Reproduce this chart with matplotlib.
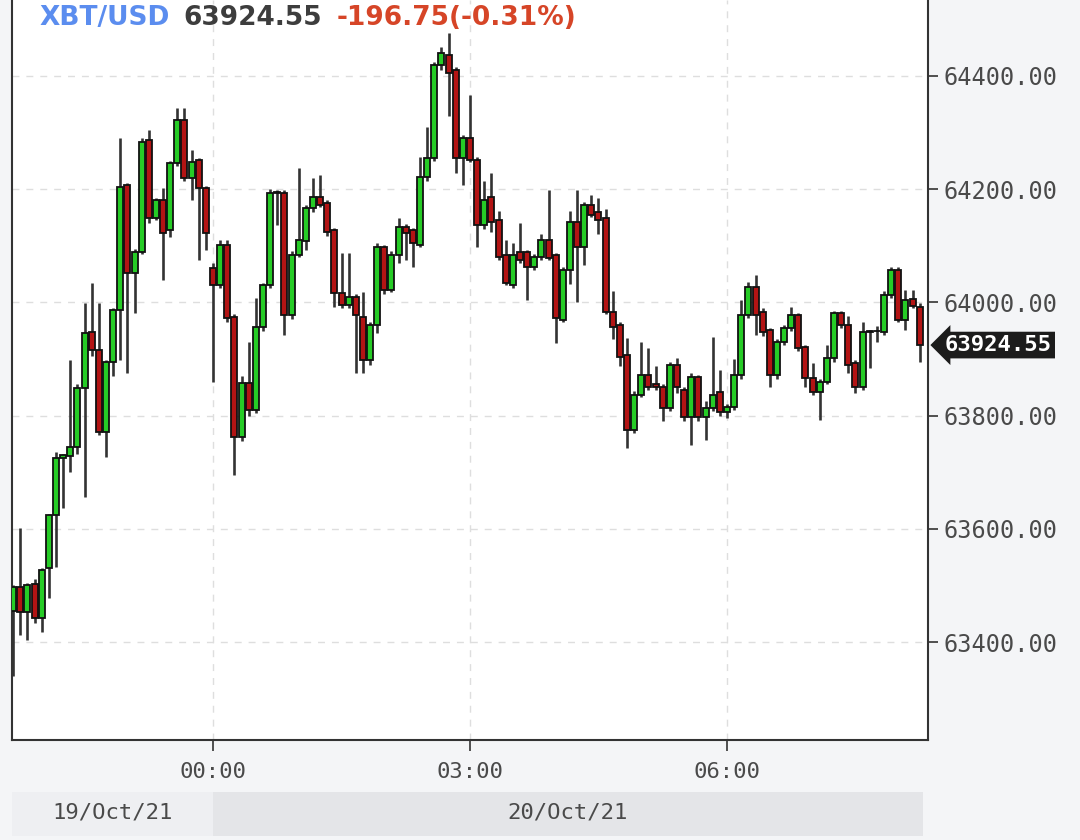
import pandas as pd
import numpy as np
import matplotlib
matplotlib.use('Agg')
import matplotlib.pyplot as plt
import matplotlib.dates as mdates
import matplotlib.transforms as mtransforms
from matplotlib.patches import Rectangle

# 5-minute XBT/USD candles, 19 Oct 21:40 -> 20 Oct 08:15
opens = [63455, 63497, 63453, 63503, 63442, 63530, 63624, 63725, 63728, 63744,
         63848, 63948, 63915, 63771, 63894, 63986, 64207, 64052, 64089, 64287,
         64149, 64181, 64127, 64246, 64322, 64220, 64251, 64202, 64060, 64030,
         64101, 63974, 63762, 63857, 63810, 63956, 64030, 64193, 64193, 63977,
         64084, 64108, 64167, 64186, 64175, 64128, 64016, 63995, 64010, 63974,
         63898, 63960, 64098, 64022, 64084, 64133, 64128, 64101, 64221, 64255,
         64419, 64437, 64410, 64255, 64290, 64252, 64137, 64186, 64145, 64084,
         64030, 64089, 64089, 64062, 64080, 64110, 64084, 63969, 64057, 64142,
         64098, 64172, 64160, 64149, 63983, 63960, 63907, 63774, 63836, 63871,
         63855, 63850, 63813, 63889, 63845, 63797, 63868, 63797, 63813, 63841,
         63806, 63815, 63871, 63977, 64027, 63983, 63951, 63871, 63930, 63955,
         63977, 63921, 63866, 63841, 63859, 63901, 63981, 63960, 63893, 63850,
         63947, 63949, 63947, 64013, 64057, 63969, 64006, 63992]
highs = [63500, 63601, 63505, 63512, 63530, 63626, 63735, 63732, 63898, 63855,
         63999, 64035, 63999, 63898, 63990, 64290, 64210, 64095, 64290, 64305,
         64185, 64202, 64250, 64343, 64343, 64269, 64255, 64205, 64070, 64110,
         64110, 63980, 63870, 63930, 64007, 64035, 64200, 64198, 64198, 64090,
         64237, 64172, 64220, 64225, 64180, 64132, 64087, 64087, 64015, 64018,
         63965, 64105, 64102, 64090, 64149, 64138, 64132, 64257, 64310, 64425,
         64451, 64476, 64415, 64295, 64366, 64256, 64215, 64228, 64162, 64110,
         64105, 64140, 64093, 64085, 64120, 64198, 64088, 64062, 64162, 64198,
         64178, 64189, 64185, 64165, 64020, 63965, 63937, 63843, 63930, 63920,
         63888, 63856, 63895, 63902, 63850, 63875, 63872, 63825, 63939, 63880,
         63820, 63900, 64004, 64036, 64048, 63990, 63955, 63935, 63960, 63992,
         63981, 63925, 63893, 63864, 63924, 63985, 63985, 63975, 63898, 63965,
         63951, 63958, 64020, 64062, 64062, 64022, 64022, 63998]
lows = [63340, 63412, 63403, 63433, 63417, 63477, 63532, 63636, 63700, 63733,
        63656, 63905, 63765, 63726, 63870, 63898, 63875, 63981, 64085, 64140,
        64145, 64039, 64115, 64240, 64215, 64180, 64075, 64092, 63859, 64025,
        63965, 63695, 63755, 63800, 63805, 63950, 64025, 64137, 63942, 63970,
        64080, 64092, 64160, 64168, 64118, 63991, 63990, 63990, 63875, 63875,
        63890, 63945, 64015, 64018, 64070, 64075, 64062, 64098, 64215, 64250,
        64410, 64330, 64228, 64207, 64248, 64098, 64130, 64125, 64075, 64030,
        64025, 64070, 64004, 64058, 64075, 64074, 63928, 63965, 64032, 64000,
        64066, 64150, 64120, 63980, 63935, 63887, 63742, 63770, 63832, 63846,
        63846, 63790, 63808, 63840, 63790, 63748, 63790, 63756, 63808, 63800,
        63795, 63810, 63865, 63972, 63942, 63940, 63850, 63865, 63925, 63950,
        63914, 63850, 63836, 63792, 63855, 63895, 63955, 63875, 63840, 63845,
        63884, 63930, 63942, 64008, 63965, 63951, 63990, 63894]
closes = [63497, 63453, 63500, 63442, 63527, 63624, 63725, 63730, 63745, 63848,
          63946, 63915, 63771, 63894, 63986, 64204, 64052, 64089, 64283, 64149,
          64180, 64122, 64246, 64322, 64220, 64248, 64202, 64122, 64030, 64101,
          63972, 63762, 63857, 63810, 63956, 64030, 64193, 64195, 63977, 64084,
          64110, 64167, 64186, 64172, 64124, 64016, 63995, 64010, 63977, 63898,
          63960, 64098, 64022, 64084, 64133, 64122, 64105, 64221, 64255, 64419,
          64440, 64405, 64255, 64290, 64252, 64137, 64181, 64142, 64080, 64034,
          64084, 64075, 64062, 64080, 64110, 64078, 63972, 64057, 64142, 64098,
          64172, 64154, 64145, 63983, 63956, 63903, 63774, 63836, 63871, 63850,
          63850, 63813, 63889, 63850, 63797, 63868, 63797, 63813, 63836, 63806,
          63815, 63871, 63977, 64027, 63977, 63948, 63871, 63930, 63955, 63977,
          63919, 63866, 63841, 63859, 63901, 63981, 63960, 63889, 63850, 63947,
          63949, 63950, 64013, 64057, 63969, 64004, 63994, 63924.55]

last_price = 63924.55
change = -196.75
change_pct = -0.31
yticks = [63400, 63600, 63800, 64000, 64200, 64400]
xticks = ['2021-10-20 00:00', '2021-10-20 03:00', '2021-10-20 06:00']
day_labels = ['19/Oct/21', '20/Oct/21']

times = pd.date_range('2021-10-19 21:40', periods=len(closes), freq='5min')
x = mdates.date2num(times)
o = np.array(opens)
c = np.array(closes)
h = np.array(highs)
l = np.array(lows)
up = c >= o

fig = plt.figure(figsize=(10.8, 8.4), dpi=100, facecolor='#f4f5f7')
ax = fig.add_axes([12 / 1080, 1 - 740 / 840, 916 / 1080, 740 / 840])
ax.set_facecolor('white')

w = 5 / 1440 * 0.84
ax.vlines(x, l, h, color='#333333', lw=1.9, zorder=2)
ax.bar(x[up], (c - o)[up], bottom=o[up], width=w, color='#26cc26',
       edgecolor='#111111', lw=1.3, zorder=3)
ax.bar(x[~up], (o - c)[~up], bottom=c[~up], width=w, color='#b31414',
       edgecolor='#111111', lw=1.3, zorder=3)

x_left = mdates.date2num(pd.Timestamp('2021-10-19 21:39:10'))
x_right = mdates.date2num(pd.Timestamp('2021-10-20 08:20:50'))
ax.set_xlim(x_left, x_right)
ax.set_ylim(63227, 64534)

ax.set_yticks(yticks)
ax.yaxis.set_major_formatter(plt.FuncFormatter(lambda v, p: '%.2f' % v))
ax.yaxis.tick_right()
ax.set_xticks(mdates.date2num(pd.to_datetime(xticks)))
ax.xaxis.set_major_formatter(mdates.DateFormatter('%H:%M'))
ax.tick_params(axis='y', direction='out', length=7, width=1.2, color='#333333',
               labelsize=17, labelcolor='#4a4a4a', pad=4)
ax.tick_params(axis='x', direction='out', length=8, width=1.2, color='#333333',
               labelsize=16, labelcolor='#4a4a4a', pad=8)
for lab in ax.get_xticklabels() + ax.get_yticklabels():
    lab.set_family('DejaVu Sans Mono')

ax.grid(True, color='#dedede', ls=(0, (5, 5)), lw=1, zorder=0)
ax.set_axisbelow(True)
ax.spines['top'].set_visible(False)
for s in ['left', 'bottom', 'right']:
    ax.spines[s].set_color('#333333')
    ax.spines[s].set_linewidth(1.5)

# header
fig.text(40 / 1080, 1 - 18 / 840, 'XBT/USD', color='#5b8def', fontsize=19,
         fontweight='bold', va='center')
fig.text(183 / 1080, 1 - 18 / 840, '%.2f' % last_price, color='#3d3d3d',
         fontsize=19, fontweight='bold', va='center')
fig.text(337 / 1080, 1 - 18 / 840, '%.2f(%.2f%%)' % (change, change_pct),
         color='#d64527', fontsize=19, fontweight='bold', va='center')

# last price tag
ax.annotate('%.2f' % last_price, xy=(1, last_price),
            xycoords=('axes fraction', 'data'), xytext=(12, 0),
            textcoords='offset points', va='center', ha='left', color='white',
            fontsize=16, family='DejaVu Sans Mono', fontweight='bold',
            bbox=dict(boxstyle='larrow,pad=0.15', fc='#1c1c1c', ec='none'),
            annotation_clip=False)

# date bar
trans = mtransforms.blended_transform_factory(ax.transData, fig.transFigure)
midnight = mdates.date2num(pd.Timestamp('2021-10-20 00:00'))
bar_end = x[-1] + 2 / 1440
fig.add_artist(Rectangle((x_left, 4 / 840), midnight - x_left, 44 / 840,
                         transform=trans, fc='#eeeff2', ec='none'))
fig.add_artist(Rectangle((midnight, 4 / 840), bar_end - midnight, 44 / 840,
                         transform=trans, fc='#e4e5e8', ec='none'))
fig.text((x_left + midnight) / 2, 1 - 813 / 840, day_labels[0], transform=trans,
         ha='center', va='center', fontsize=16, color='#4a4a4a',
         family='DejaVu Sans Mono')
fig.text((midnight + bar_end) / 2, 1 - 813 / 840, day_labels[1], transform=trans,
         ha='center', va='center', fontsize=16, color='#4a4a4a',
         family='DejaVu Sans Mono')

fig.savefig('out.png', dpi=100, facecolor=fig.get_facecolor())
